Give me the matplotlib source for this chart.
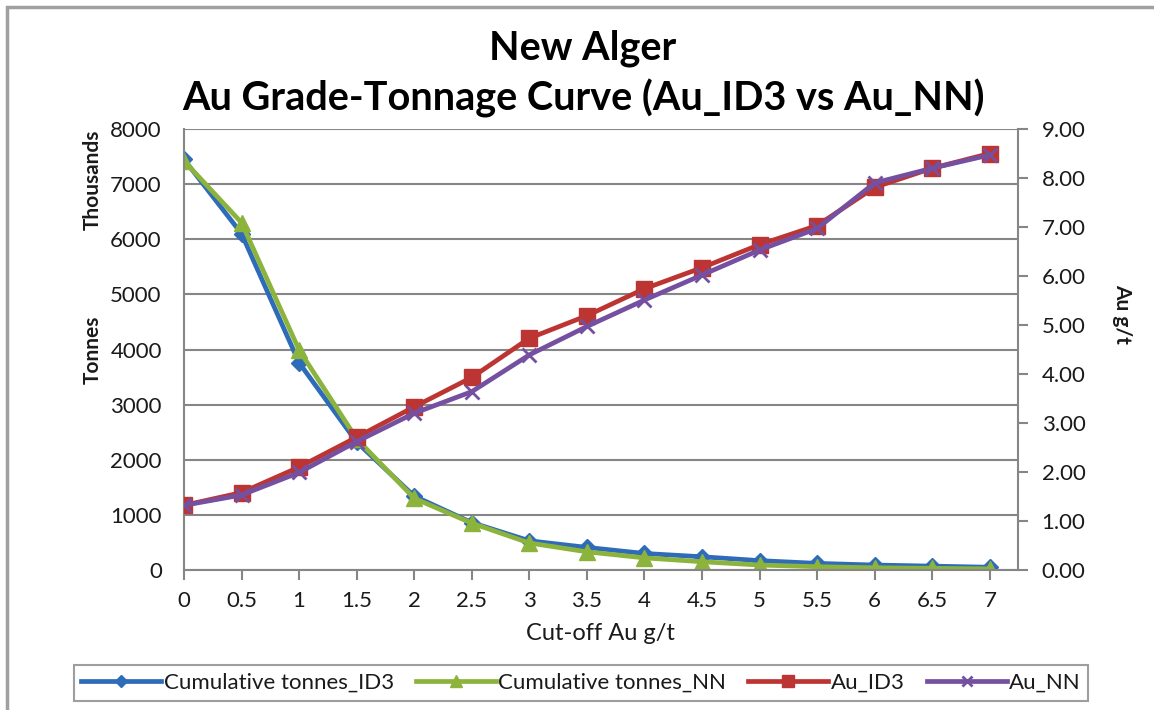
import matplotlib.pyplot as plt
from matplotlib.patches import Rectangle
from matplotlib.ticker import FormatStrFormatter, MultipleLocator

plt.rcParams['font.family'] = ['Lato', 'DejaVu Sans']

# Cut-off grades (g/t) and results per cut-off
cutoff = [0, 0.5, 1, 1.5, 2, 2.5, 3, 3.5, 4, 4.5, 5, 5.5, 6, 6.5, 7]
tonnes_id3 = [7450, 6100, 3760, 2320, 1340, 860, 530, 410, 300, 240, 170, 120, 90, 70, 50]
tonnes_nn = [7420, 6300, 3990, 2380, 1300, 850, 490, 330, 220, 150, 90, 60, 40, 30, 20]
au_id3 = [1.32, 1.58, 2.10, 2.71, 3.33, 3.93, 4.73, 5.19, 5.74, 6.17, 6.64, 7.03, 7.81, 8.20, 8.50]
au_nn = [1.32, 1.53, 1.99, 2.62, 3.20, 3.64, 4.39, 4.97, 5.51, 6.02, 6.53, 6.97, 7.90, 8.20, 8.47]

blue = '#2E6BB8'
green = '#8CB43C'
red = '#BC3532'
purple = '#7550A0'
axis_gray = '#868686'
text_col = '#1a1a1a'

fig = plt.figure(figsize=(11.54, 7.10), dpi=100)
ax = fig.add_axes([184 / 1154, 1 - 570 / 710, (1018 - 184) / 1154, (570 - 129) / 710])
ax2 = ax.twinx()

# Tonnes on the left axis (thousands)
l1, = ax.plot(cutoff, tonnes_id3, color=blue, lw=3.4, marker='D', markersize=8,
              label='Cumulative tonnes_ID3')
l2, = ax.plot(cutoff, tonnes_nn, color=green, lw=3.4, marker='^', markersize=11,
              label='Cumulative tonnes_NN')

# Grades on the right axis
l3, = ax2.plot(cutoff, au_id3, color=red, lw=3.4, marker='s', markersize=11,
               label='Au_ID3')
l4, = ax2.plot(cutoff, au_nn, color=purple, lw=3.4, marker='x', markersize=10,
               markeredgewidth=2, label='Au_NN')

ax.set_xlim(0, 7.245)
ax.set_ylim(0, 8000)
ax2.set_ylim(0, 9)
ax.set_xticks(cutoff)
ax.set_xticklabels([f'{c:g}' for c in cutoff])
ax.yaxis.set_major_locator(MultipleLocator(1000))
ax2.yaxis.set_major_locator(MultipleLocator(1))
ax2.yaxis.set_major_formatter(FormatStrFormatter('%.2f'))

ax.grid(axis='y', color=axis_gray, lw=1.5)
ax.set_axisbelow(True)

for a in (ax, ax2):
    a.spines['top'].set_visible(False)
    for s in ('left', 'right', 'bottom'):
        a.spines[s].set_color(axis_gray)
        a.spines[s].set_linewidth(1.5)
ax.spines['right'].set_visible(False)
ax2.spines['left'].set_visible(False)
ax2.spines['bottom'].set_visible(False)

ax.tick_params(axis='x', direction='out', length=7, width=1.5, color=axis_gray,
               labelsize=16, labelcolor=text_col, pad=8)
ax.tick_params(axis='y', length=0, labelsize=16, labelcolor=text_col, pad=16)
ax2.tick_params(axis='y', direction='out', length=7, width=1.5, color=axis_gray,
                labelsize=16, labelcolor=text_col, pad=10)

# Axis titles
fig.text(93 / 1154, 1 - 180 / 710, 'Thousands', rotation=90, ha='center', va='center',
         fontsize=15, fontweight='bold', color=text_col)
fig.text(93 / 1154, 1 - 350 / 710, 'Tonnes', rotation=90, ha='center', va='center',
         fontsize=15, fontweight='bold', color=text_col)
fig.text(1122 / 1154, 1 - 314 / 710, 'Au g/t', rotation=-90, ha='center', va='center',
         fontsize=15, fontweight='bold', color=text_col)
fig.text(600 / 1154, 1 - 634 / 710, 'Cut-off Au g/t', ha='center', va='center',
         fontsize=17, color=text_col)

# Title
fig.text(583 / 1154, 1 - 48 / 710, 'New Alger', ha='center', va='center',
         fontsize=28.5, fontweight='bold', color='black')
fig.text(583 / 1154, 1 - 98 / 710, 'Au Grade-Tonnage Curve (Au_ID3 vs Au_NN)',
         ha='center', va='center', fontsize=28.5, fontweight='bold', color='black')

leg = fig.legend(handles=[l1, l2, l3, l4], loc='center', ncol=4,
                 bbox_to_anchor=(581 / 1154, 1 - 683 / 710), fontsize=16,
                 frameon=True, fancybox=False, edgecolor=axis_gray,
                 handlelength=3.6, handletextpad=0.1, columnspacing=1.0,
                 borderpad=0.35, markerscale=0.75)
leg.get_frame().set_linewidth(1.5)
for t in leg.get_texts():
    t.set_color(text_col)

# Outer chart border
fig.patches.append(Rectangle((7 / 1154, -0.02), 1.1, 1.02 - 7 / 710,
                             transform=fig.transFigure, fill=False,
                             edgecolor='#a0a0a0', lw=2.5))

fig.savefig('out.png', dpi=100, facecolor='white')
